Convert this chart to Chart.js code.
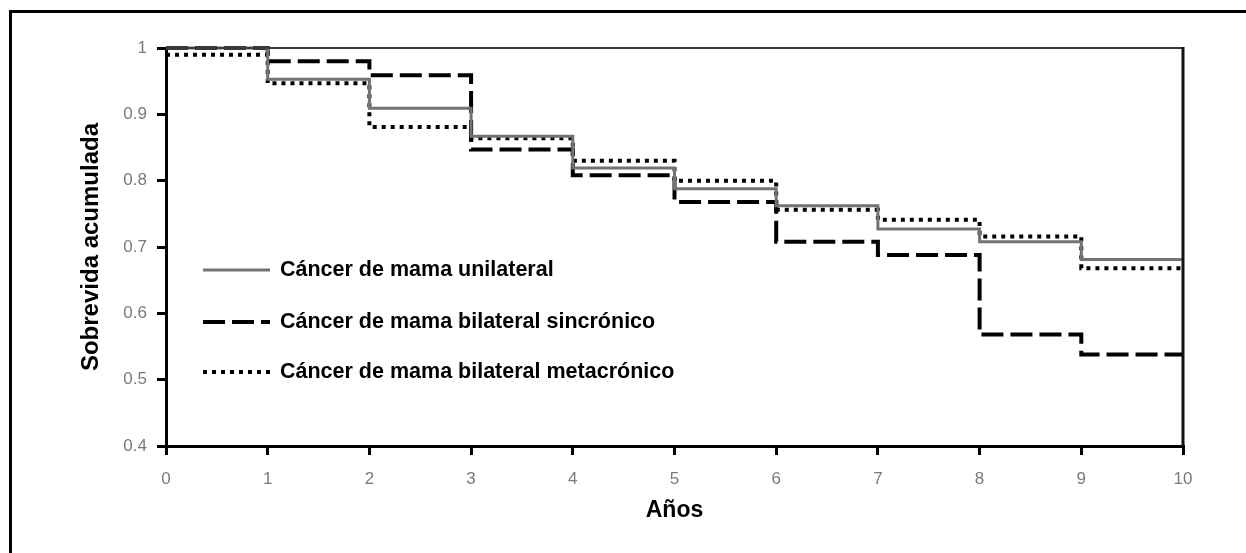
<!DOCTYPE html>
<html>
<head>
<meta charset="utf-8">
<script src="https://cdn.jsdelivr.net/npm/chart.js@4/dist/chart.umd.min.js"></script>
<style>
  html, body { margin: 0; padding: 0; background: #fff; }
  #wrap { position: relative; width: 1246px; height: 553px; overflow: hidden; }
  #frame { position: absolute; left: 9px; top: 10px; right: -10px; bottom: -10px;
           border-left: 3px solid #000; border-top: 3px solid #000; }
  #survival { position: absolute; left: 0; top: 0; }
</style>
</head>
<body>
<div id="wrap">
  <div id="frame"></div>
  <canvas id="survival" width="1246" height="553"></canvas>
</div>
<script>
// Años de seguimiento
const years = [0, 1, 2, 3, 4, 5, 6, 7, 8, 9, 10];

// Sobrevida acumulada al inicio de cada año (último valor = nivel al año 10)
const unilateral  = [1.000, 0.953, 0.909, 0.867, 0.819, 0.788, 0.762, 0.727, 0.708, 0.681, 0.681];
const sincronico  = [1.000, 0.980, 0.959, 0.847, 0.808, 0.768, 0.708, 0.688, 0.568, 0.538, 0.538];
const metacronico = [0.990, 0.947, 0.881, 0.864, 0.830, 0.800, 0.756, 0.741, 0.716, 0.668, 0.668];

const seriesNames = [
  "Cáncer de mama unilateral",
  "Cáncer de mama bilateral sincrónico",
  "Cáncer de mama bilateral metacrónico"
];

const toPoints = vals => years.map((x, i) => ({ x: x, y: vals[i] }));

const FONT = '"Liberation Sans", Arial, sans-serif';

// marco superior y derecho del área del gráfico
const boxFrame = {
  id: 'boxFrame',
  afterDatasetsDraw(chart) {
    const { ctx, chartArea: a } = chart;
    ctx.save();
    ctx.strokeStyle = '#3a3a3a';
    ctx.lineWidth = 2;
    ctx.beginPath();
    ctx.moveTo(a.left, a.top);
    ctx.lineTo(a.right, a.top);
    ctx.stroke();
    ctx.strokeStyle = '#111';
    ctx.lineWidth = 3;
    ctx.beginPath();
    ctx.moveTo(a.right, a.top - 1);
    ctx.lineTo(a.right, a.bottom);
    ctx.stroke();
    ctx.restore();
  }
};

// leyenda dentro del área, a la izquierda
const insideLegend = {
  id: 'insideLegend',
  afterDraw(chart) {
    const { ctx, chartArea: a } = chart;
    const rows = [270, 322, 372];
    ctx.save();
    chart.data.datasets.forEach((ds, i) => {
      const y = rows[i];
      ctx.strokeStyle = ds.borderColor;
      ctx.lineWidth = ds.borderWidth;
      ctx.setLineDash(ds.borderDash || []);
      ctx.beginPath();
      ctx.moveTo(a.left + 37, y);
      ctx.lineTo(a.left + 104, y);
      ctx.stroke();
      ctx.setLineDash([]);
      ctx.fillStyle = '#000';
      ctx.font = 'bold 21.5px ' + FONT;
      ctx.textBaseline = 'middle';
      ctx.fillText(ds.label, a.left + 114, y);
    });
    ctx.restore();
  }
};

new Chart(document.getElementById("survival"), {
  type: 'line',
  data: {
    datasets: [
      {
        label: seriesNames[0],
        data: toPoints(unilateral),
        borderColor: '#737373',
        borderWidth: 3,
        stepped: true,
        pointRadius: 0,
        clip: false
      },
      {
        label: seriesNames[1],
        data: toPoints(sincronico),
        borderColor: '#000',
        borderWidth: 4,
        borderDash: [22, 7],
        stepped: true,
        pointRadius: 0,
        clip: false
      },
      {
        label: seriesNames[2],
        data: toPoints(metacronico),
        borderColor: '#000',
        borderWidth: 4,
        borderDash: [4, 5],
        stepped: true,
        pointRadius: 0,
        clip: false
      }
    ]
  },
  options: {
    responsive: false,
    animation: false,
    layout: { padding: { left: 0, top: 48, right: 63, bottom: 0 } },
    plugins: {
      legend: { display: false },
      tooltip: { enabled: false }
    },
    scales: {
      x: {
        type: 'linear',
        min: 0,
        max: 10,
        afterFit: s => { s.height = 107; },
        ticks: {
          stepSize: 1,
          color: '#7a7a7a',
          font: { family: FONT, size: 17 },
          padding: 14
        },
        grid: { drawOnChartArea: false, drawTicks: true, tickLength: 9, color: '#000', lineWidth: 3 },
        border: { color: '#000', width: 3 },
        title: {
          display: true,
          text: 'Años',
          color: '#000',
          font: { family: FONT, size: 23, weight: 'bold' },
          padding: { top: 0, bottom: 29 }
        }
      },
      y: {
        min: 0.4,
        max: 1,
        afterFit: s => { s.width = 166; },
        ticks: {
          stepSize: 0.1,
          color: '#7a7a7a',
          font: { family: FONT, size: 17 },
          padding: 10,
          callback: v => Number(v.toFixed(1)).toString()
        },
        grid: { drawOnChartArea: false, drawTicks: true, tickLength: 9, color: '#000', lineWidth: 3 },
        border: { color: '#000', width: 3 },
        title: {
          display: true,
          text: 'Sobrevida acumulada',
          color: '#000',
          font: { family: FONT, size: 24, weight: 'bold' },
          padding: { top: 77, bottom: 0 }
        }
      }
    }
  },
  plugins: [boxFrame, insideLegend]
});
</script>
</body>
</html>
